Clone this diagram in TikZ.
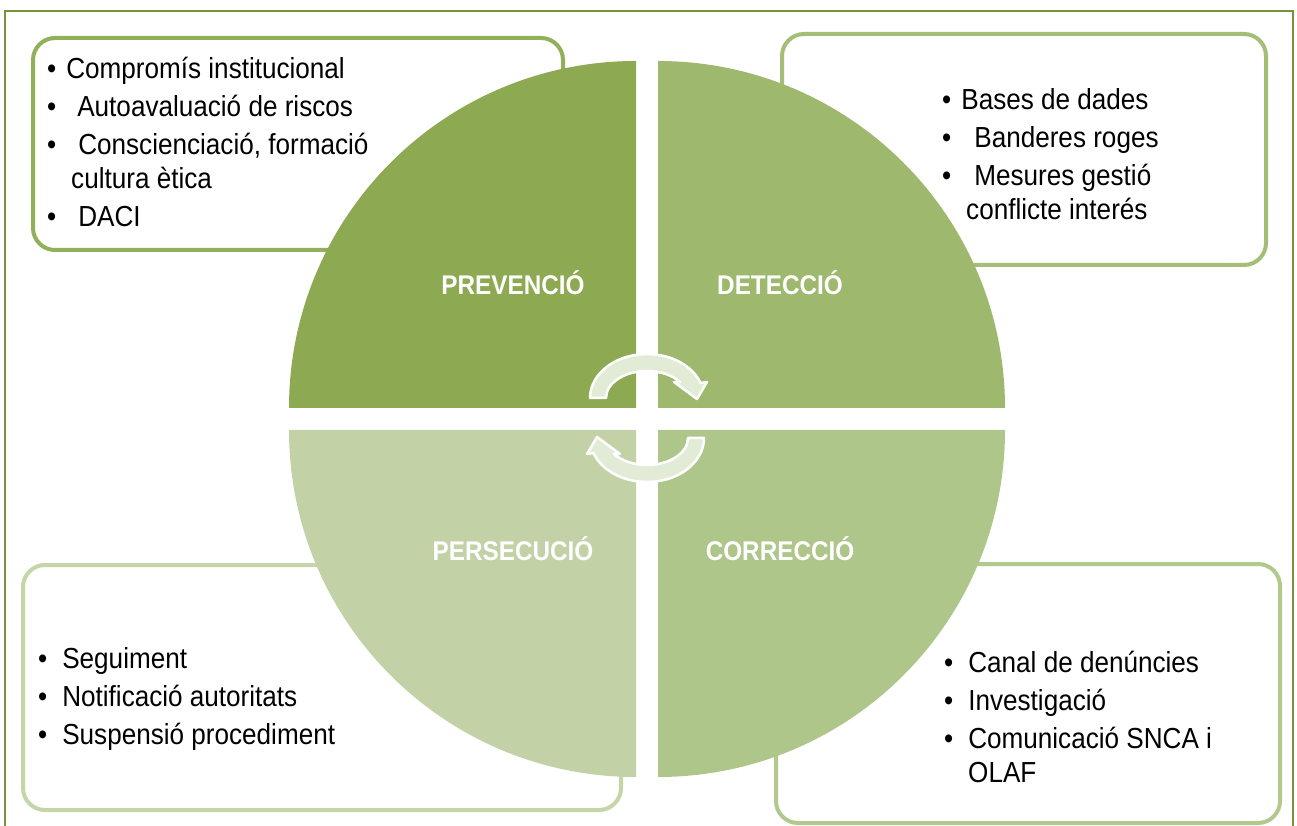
\documentclass[tikz,border=0pt]{standalone}
\usepackage{fontspec}
\setmainfont{Liberation Sans}[FakeStretch=0.9]
\definecolor{frame}{HTML}{76923C}
\definecolor{qTL}{HTML}{8DA951}
\definecolor{qTR}{HTML}{9EB96E}
\definecolor{qBR}{HTML}{AFC68A}
\definecolor{qBL}{HTML}{C2D2A6}
\definecolor{boxTL}{HTML}{92AF5A}
\definecolor{boxTR}{HTML}{A4BE78}
\definecolor{boxBR}{HTML}{B2C98E}
\definecolor{boxBL}{HTML}{C4D6A8}
\definecolor{cycfill}{HTML}{E2EBD6}
\begin{document}
\begin{tikzpicture}[x=1pt,y=1pt,
    infobox/.style={line width=4pt, rounded corners=22pt, fill=white},
    items/.style={anchor=base west, inner sep=0pt, align=left, font=\fontsize{29}{34}\selectfont},
    phase/.style={anchor=base, inner sep=0pt, text=white, font=\fontsize{27}{32}\selectfont\bfseries},
    cyc/.style={fill=cycfill, draw=white, line width=2.5pt, line join=round}]
    \useasboundingbox (0,0) rectangle (1297,825);
    \draw[frame, line width=2pt] (5,814) rectangle (1293,-10);

    \draw[infobox, draw=boxTL] (33,787) rectangle (563,575);
    \draw[infobox, draw=boxTR] (782,791) rectangle (1266,560);
    \draw[infobox, draw=boxBL] (23,260) rectangle (621,15);
    \draw[infobox, draw=boxBR] (776,261) rectangle (1280,2);

    \fill[qTL] (636,417) -- ++(-347,0) arc[start angle=180, end angle=90, radius=347] -- cycle;
    \fill[qTR] (658,417) -- ++(0,347) arc[start angle=90, end angle=0, radius=347] -- cycle;
    \fill[qBR] (658,395) -- ++(347,0) arc[start angle=0, end angle=-90, radius=347] -- cycle;
    \fill[qBL] (636,395) -- ++(0,-347) arc[start angle=270, end angle=180, radius=347] -- cycle;

    \foreach \yc/\a in {427/0, 387/180}
        \path[cyc, shift={(647,\yc)}, rotate=\a] (-41,0)
            arc[start angle=180, end angle=36, x radius=41, y radius=27]
            -- (27,16) -- (50,-1) -- (60,16) -- (20:57 and 44)
            arc[start angle=20, end angle=180, x radius=57, y radius=44] -- cycle;

    \node[phase] (prev) at (513,530) {PREVENCIÓ};
    \node[phase] (det) at (780,530) {DETECCIÓ};
    \node[phase] (pers) at (513,265) {PERSECUCIÓ};
    \node[phase] (corr) at (780,265) {CORRECCIÓ};

    \node[items] (prevlist) at (47,598) {\textbullet\hspace{10pt}Compromís institucional\\[4pt]
        \textbullet\hspace{21pt}Autoavaluació de riscos\\[4pt]
        \textbullet\hspace{22pt}Conscienciació, formació\\
        \hspace*{24pt}cultura ètica\\[4pt]
        \textbullet\hspace{22pt}DACI};
    \node[items] (detlist) at (942,605) {\textbullet\hspace{10pt}Bases de dades\\[4pt]
        \textbullet\hspace{23pt}Banderes roges\\[4pt]
        \textbullet\hspace{23pt}Mesures gestió\\
        \hspace*{24pt}conflicte interés};
    \node[items] (perslist) at (38,81) {\textbullet\hspace{15pt}Seguiment\\[4pt]
        \textbullet\hspace{15pt}Notificació autoritats\\[4pt]
        \textbullet\hspace{15pt}Suspensió procediment};
    \node[items] (corrlist) at (944,43) {\textbullet\hspace{15pt}Canal de denúncies\\[4pt]
        \textbullet\hspace{15pt}Investigació\\[4pt]
        \textbullet\hspace{15pt}Comunicació SNCA i\\
        \hspace*{24pt}OLAF};
\end{tikzpicture}
\end{document}
